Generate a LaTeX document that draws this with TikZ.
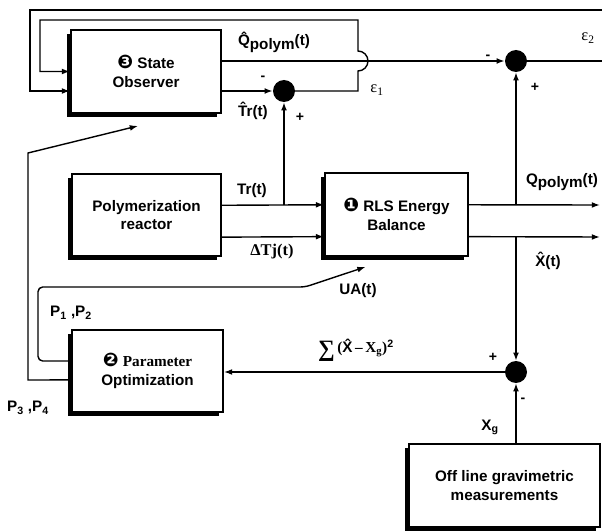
\documentclass[tikz,border=0pt]{standalone}
\usepackage{fontspec}
\setmainfont{Liberation Sans}
\newfontfamily\serifont{Liberation Serif}
\newfontfamily\dingfont{DejaVu Sans}
\usetikzlibrary{arrows.meta, calc, shadows}

\tikzset{
  block/.style={draw, line width=1.6pt, fill=white, align=center,
    font=\fontsize{13}{16}\selectfont\bfseries, inner sep=2pt,
    drop shadow={shadow xshift=-3pt, shadow yshift=-3pt, fill=black, opacity=1}},
  sumnode/.style={circle, fill=black, minimum size=0.66cm, inner sep=0pt},
  lbl/.style={font=\fontsize{13}{15}\selectfont\bfseries, inner sep=1pt},
  sgn/.style={font=\fontsize{12}{12}\selectfont\bfseries, inner sep=0pt},
  arr/.style={line width=1.2pt, -{Latex[length=7pt,width=5pt]}},
  wire/.style={line width=1.2pt},
}
\newcommand{\dnum}[1]{{\fontsize{16}{16}\dingfont #1}}
\newcommand{\hatc}[1]{{\accent"02C6 #1}}

\begin{document}
\begin{tikzpicture}[x=0.03cm, y=-0.03cm]
  \useasboundingbox (0,0) rectangle (602,531);

  % blocks
  \node[block, minimum width=4.5cm, minimum height=2.49cm] (obs) at (146,71.5)
    {\dnum{❸} State\\Observer};
  \node[block, minimum width=4.47cm, minimum height=2.46cm] (reactor) at (146.5,215)
    {Polymerization\\reactor};
  \node[block, minimum width=4.29cm, minimum height=2.49cm] (rls) at (396.5,214.5)
    {\dnum{❶} RLS Energy\\Balance};
  \node[block, minimum width=4.53cm, minimum height=2.46cm] (paramopt) at (147.5,371)
    {\dnum{❷} {\serifont Parameter}\\Optimization};
  \node[block, minimum width=5.73cm, minimum height=2.49cm] (offline) at (504.5,485.5)
    {Off line gravimetric\\measurements};

  % summing junctions
  \node[sumnode] (sum1) at (284,91) {};
  \node[sumnode] (sum2) at (516,61) {};
  \node[sumnode] (sum3) at (516,372) {};

  % free ends
  \coordinate (topR) at (602,10);
  \coordinate (e2R) at (602,61);
  \coordinate (trA) at ([yshift=8.3pt]reactor.east);
  \coordinate (trB) at ([yshift=8.3pt]rls.west);
  \coordinate (djA) at ([yshift=-18.9pt]reactor.east);
  \coordinate (djB) at ([yshift=-18.9pt]rls.west);
  \coordinate (qA) at ([yshift=8.3pt]rls.east);
  \coordinate (qEnd) at (600,205);
  \coordinate (xA) at ([yshift=-18.9pt]rls.east);
  \coordinate (xEnd) at (600,237);
  \coordinate (uaTip) at ($(rls.south)+(-31,10)$);
  \coordinate (obsTip) at ($(obs.south)+(-8,12)$);

  % observer loops
  \draw[arr] (topR) -- (30,10) |- (obs.west |- sum1);
  \draw[arr] (sum1) -- (358,91) -- (358,71)
    arc[start angle=-90, end angle=90, radius=0.3cm] -- (358,20) -- (40,20) |- (obs.west);
  \draw[arr] (obs.east |- sum2) -- (sum2);
  \draw[arr] (obs.east |- sum1) -- (sum1);
  \draw[wire] (sum2) -- (e2R);

  % reactor -> RLS
  \draw[arr] (trA) -- (trB);
  \draw[arr] (djA) -- (djB);
  \draw[arr] (sum1 |- trA) -- (sum1);

  % RLS outputs
  \draw[arr] (qA) -- (qEnd);
  \draw[arr] (xA) -- (xEnd);
  \draw[arr] (sum2 |- qA) -- (sum2);
  \draw[arr] (sum3 |- xA) -- (sum3);

  % optimization
  \draw[arr] (sum3) -- (sum3 -| paramopt.east);
  \draw[arr] (offline.north -| sum3) -- (sum3);
  \draw[arr, rounded corners=4pt] ([yshift=8.5pt]paramopt.west) -- (38,361) -- (38,287)
    -- (305,287) -- (uaTip);
  \draw[arr] ([yshift=-7.6pt]paramopt.west) -- (28,380) -- (28,153) -- (obsTip);

  % labels
  \node[lbl] (lQhat) at (274,42) {\hatc{Q}\raisebox{-3pt}{polym}(t)};
  \node[lbl] (lTrhat) at (253,111) {\hatc{T}r(t)};
  \node[lbl] (lTr) at (252,191) {Tr(t)};
  \node[lbl, font=\fontsize{14}{16}\serifont\bfseries] (lDTj) at (272,252) {ΔTj(t)};
  \node[lbl] (lQ) at (562,182) {Q\raisebox{-3pt}{polym}(t)};
  \node[lbl] (lXhat) at (548,261) {\hatc{X}(t)};
  \node[lbl] (lUA) at (358,291) {UA(t)};
  \node[lbl] (lP12) at (71,313) {P\textsubscript{1} ,P\textsubscript{2}};
  \node[lbl] (lP34) at (28,408) {P\textsubscript{3} ,P\textsubscript{4}};
  \node[lbl] (lSum) at (356,350)
    {\raisebox{-3pt}{\serifont\fontsize{20}{20}\selectfont ∑}\,{\serifont (}\hatc{X}\,{\serifont –}\,{\serifont X\textsubscript{g}}{\serifont )}\textsuperscript{2}};
  \node[lbl] (lXg) at (490,427) {X\textsubscript{g}};
  \node[lbl, font=\fontsize{14}{16}\serifont] (eps1) at (377,90) {ε\textsubscript{1}};
  \node[lbl, font=\fontsize{14}{16}\serifont] (eps2) at (588,38) {ε\textsubscript{2}};

  % signs
  \node[sgn] (m1) at (263,78) {-};
  \node[sgn] (p1) at (300,117) {+};
  \node[sgn] (m2) at (488,57) {-};
  \node[sgn] (p2) at (535,87) {+};
  \node[sgn] (p3) at (493,357) {+};
  \node[sgn] (m3) at (523,400) {-};
\end{tikzpicture}
\end{document}
